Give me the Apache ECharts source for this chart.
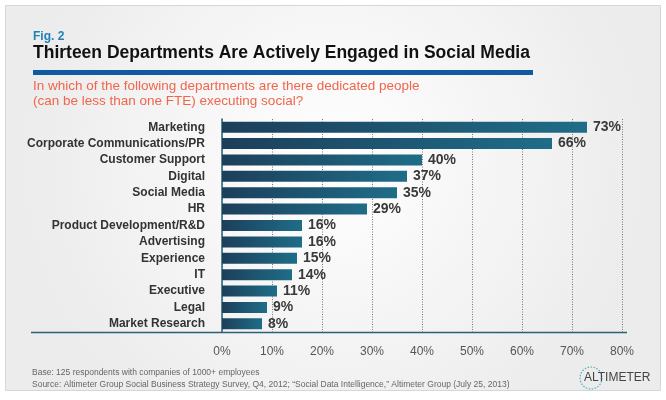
<!DOCTYPE html>
<html><head><meta charset="utf-8">
<script src="https://cdn.jsdelivr.net/npm/echarts@6/dist/echarts.min.js"></script>
<style>html,body{margin:0;padding:0;background:#fff;}#c{width:666px;height:400px;}</style>
</head><body><div id="c"></div>
<script>
var categories = ["Marketing","Corporate Communications/PR","Customer Support","Digital","Social Media","HR","Product Development/R&D","Advertising","Experience","IT","Executive","Legal","Market Research"];
var values = [73,66,40,37,35,29,16,16,15,14,11,9,8];
var xMin = 0, xMax = 80, xStep = 10;
var titleText = "Thirteen Departments Are Actively Engaged in Social Media";
var figText = "Fig. 2";
var subtitleText = "In which of the following departments are there dedicated people\n(can be less than one FTE) executing social?";
var footer1 = "Base: 125 respondents with companies of 1000+ employees";
var footer2 = "Source: Altimeter Group Social Business Strategy Survey, Q4, 2012; \u201cSocial Data Intelligence,\u201d Altimeter Group (July 25, 2013)";

var chart = echarts.init(document.getElementById('c'));
var font = "Liberation Sans, Arial, sans-serif";
chart.setOption({
  animation: false,
  backgroundColor: '#ffffff',
  graphic: [
    {type:'rect', z:-10, shape:{x:5.5,y:5.5,width:655,height:385}, style:{
      fill:{type:'radial',x:0.5,y:0.4,r:0.8,colorStops:[{offset:0,color:'#ffffff'},{offset:1,color:'#ececec'}]},
      stroke:'#d6d6d6', lineWidth:1}},
    {type:'text', left:33, top:31, style:{text:figText, font:"bold 12px "+font, fill:'#1f7fb8'}},
    {type:'text', left:33, top:44, style:{text:titleText, font:"bold 17.5px "+font, fill:'#111111'}},
    {type:'rect', shape:{x:33,y:70,width:500,height:5}, style:{fill:'#0f5aa0'}},
    {type:'text', left:33, top:79, style:{text:subtitleText, font:"13.5px "+font, fill:'#f0664c', lineHeight:15}},
    {type:'line', shape:{x1:31,y1:332.5,x2:627,y2:332.5}, style:{stroke:'#2b6079', lineWidth:1.5}},
    {type:'text', left:32, top:368, style:{text:footer1, font:"8.5px "+font, fill:'#666666'}},
    {type:'text', left:32, top:380, style:{text:footer2, font:"8.5px "+font, fill:'#666666'}},
    {type:'circle', shape:{cx:591,cy:378,r:11}, style:{fill:'none', stroke:'#4bb3c0', lineWidth:1.2, lineDash:[1.5,1.5]}},
    {type:'text', left:584, top:372, style:{text:'ALTIMETER', font:"12px "+font, fill:'#444444'}}
  ],
  grid: {left:222, right:44, top:119, bottom:68, containLabel:false},
  xAxis: {
    type:'value', min:xMin, max:xMax, interval:xStep,
    axisLine:{show:false}, axisTick:{show:false},
    axisLabel:{formatter:'{value}%', color:'#555555', fontSize:12, fontFamily:font, margin:14},
    splitLine:{show:true, lineStyle:{type:[1,1.5], color:'#777777', width:1}}
  },
  yAxis: {
    type:'category', data:categories, inverse:true,
    axisLine:{show:true, lineStyle:{color:'#2b6079', width:1.5}}, axisTick:{show:false},
    axisLabel:{color:'#333333', fontSize:12, fontWeight:'bold', fontFamily:font, margin:17}
  },
  series: [{
    type:'bar', data:values, barWidth:11,
    itemStyle:{color:{type:'linear',x:0,y:0,x2:1,y2:0,colorStops:[{offset:0,color:'#1c3f5b'},{offset:1,color:'#1f6d88'}]}},
    label:{show:true, position:'right', distance:6, formatter:'{c}%', color:'#3a3a3a', fontSize:14, fontWeight:'bold', fontFamily:font}
  }]
});
</script></body></html>
